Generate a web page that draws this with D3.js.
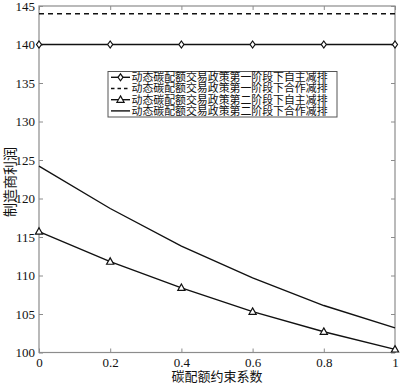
<!DOCTYPE html>
<html>
<head>
<meta charset="utf-8">
<script src="https://cdn.jsdelivr.net/npm/d3@7"></script>
<style>
  body { margin: 0; background: #fff; }
  text { font-family: "Liberation Serif", "Noto Sans CJK SC", serif; }
</style>
</head>
<body>
<script>
// data
const xValues = [0, 0.2, 0.4, 0.6, 0.8, 1];
const stage1Self = [140, 140, 140, 140, 140, 140];
const stage1Coop = [144, 144, 144, 144, 144, 144];
const stage2Self = [115.7, 111.8, 108.4, 105.3, 102.7, 100.4];
const stage2Coop = [124.2, 118.7, 113.8, 109.7, 106.1, 103.2];
const xTicks = [0, 0.2, 0.4, 0.6, 0.8, 1];
const yTicks = [100, 105, 110, 115, 120, 125, 130, 135, 140, 145];
const legendLabels = [
  "动态碳配额交易政策第一阶段下自主减排",
  "动态碳配额交易政策第一阶段下合作减排",
  "动态碳配额交易政策第二阶段下自主减排",
  "动态碳配额交易政策第二阶段下合作减排"
];

const width = 402, height = 385;
const plotLeft = 39, plotRight = 395, plotTop = 6, plotBottom = 352.5;

const svg = d3.select("body").append("svg")
  .attr("width", width)
  .attr("height", height);

const x = d3.scaleLinear().domain([0, 1]).range([plotLeft, plotRight]);
const y = d3.scaleLinear().domain([100, 145]).range([plotBottom, plotTop]);

// axes with inward ticks on all four sides
const frameColor = "#8c8c8c";
function styleAxis(g) {
  g.select(".domain").remove();
  g.selectAll(".tick line").attr("stroke", frameColor);
}

svg.append("g")
  .attr("transform", "translate(0," + plotBottom + ")")
  .call(d3.axisBottom(x).tickValues(xTicks).tickSize(-4).tickPadding(5).tickFormat(d3.format("")))
  .call(styleAxis)
  .selectAll("text").attr("font-size", 13).attr("fill", "#111");

svg.append("g")
  .attr("transform", "translate(0," + plotTop + ")")
  .call(d3.axisTop(x).tickValues(xTicks).tickSize(-4).tickFormat(""))
  .call(styleAxis);

svg.append("g")
  .attr("transform", "translate(" + plotLeft + ",0)")
  .call(d3.axisLeft(y).tickValues(yTicks).tickSize(-4).tickPadding(4))
  .call(styleAxis)
  .selectAll("text").attr("font-size", 13).attr("fill", "#111");

svg.append("g")
  .attr("transform", "translate(" + plotRight + ",0)")
  .call(d3.axisRight(y).tickValues(yTicks).tickSize(-4).tickFormat(""))
  .call(styleAxis);

svg.append("rect")
  .attr("x", plotLeft).attr("y", plotTop)
  .attr("width", plotRight - plotLeft).attr("height", plotBottom - plotTop)
  .attr("fill", "none").attr("stroke", frameColor).attr("stroke-width", 1.2);

// series
const line = d3.line().x((d, i) => x(xValues[i])).y(d => y(d));
const series = [
  { values: stage1Self, dash: null, marker: "diamond" },
  { values: stage1Coop, dash: "5,4", marker: null },
  { values: stage2Self, dash: null, marker: "triangle" },
  { values: stage2Coop, dash: null, marker: null }
];

function markerPath(type) {
  if (type == "diamond") return "M0,-3.5L2.5,0L0,3.5L-2.5,0Z";
  if (type == "triangle") return "M0,-3.8L3.6,2.6L-3.6,2.6Z";
  return null;
}

series.forEach(s => {
  svg.append("path")
    .datum(s.values)
    .attr("d", line)
    .attr("fill", "none")
    .attr("stroke", "#111")
    .attr("stroke-width", 1.4)
    .attr("stroke-dasharray", s.dash);
  if (s.marker) {
    svg.selectAll(null)
      .data(s.values)
      .enter()
      .append("path")
      .attr("d", markerPath(s.marker))
      .attr("transform", (d, i) => "translate(" + x(xValues[i]) + "," + y(d) + ")")
      .attr("fill", "#fff")
      .attr("stroke", "#111")
      .attr("stroke-width", 1.2);
  }
});

// legend
const lg = svg.append("g").attr("transform", "translate(108,71.5)");
lg.append("rect")
  .attr("width", 229).attr("height", 45.5)
  .attr("fill", "#fff").attr("stroke", "#555").attr("stroke-width", 1);

legendLabels.forEach((label, i) => {
  const cy = 5.8 + i * 11.2;
  const s = series[i];
  lg.append("line")
    .attr("x1", 3).attr("x2", 22)
    .attr("y1", cy).attr("y2", cy)
    .attr("stroke", "#111").attr("stroke-width", 1.4)
    .attr("stroke-dasharray", s.dash ? "3.5,3" : null);
  if (s.marker) {
    lg.append("path")
      .attr("d", markerPath(s.marker))
      .attr("transform", "translate(12.5," + cy + ")")
      .attr("fill", "#fff").attr("stroke", "#111").attr("stroke-width", 1.2);
  }
  lg.append("text")
    .attr("x", 23.5).attr("y", cy)
    .attr("dy", "0.36em")
    .attr("font-size", 10.9)
    .attr("fill", "#111")
    .text(label);
});

// axis titles
svg.append("text")
  .attr("x", 217).attr("y", 376.5)
  .attr("dy", "0.36em")
  .attr("text-anchor", "middle")
  .attr("font-size", 13)
  .attr("fill", "#111")
  .text("碳配额约束系数");

svg.append("text")
  .attr("transform", "translate(9.5,182) rotate(-90)")
  .attr("dy", "0.36em")
  .attr("text-anchor", "middle")
  .attr("font-size", 14)
  .attr("fill", "#111")
  .text("制造商利润");
</script>
</body>
</html>
